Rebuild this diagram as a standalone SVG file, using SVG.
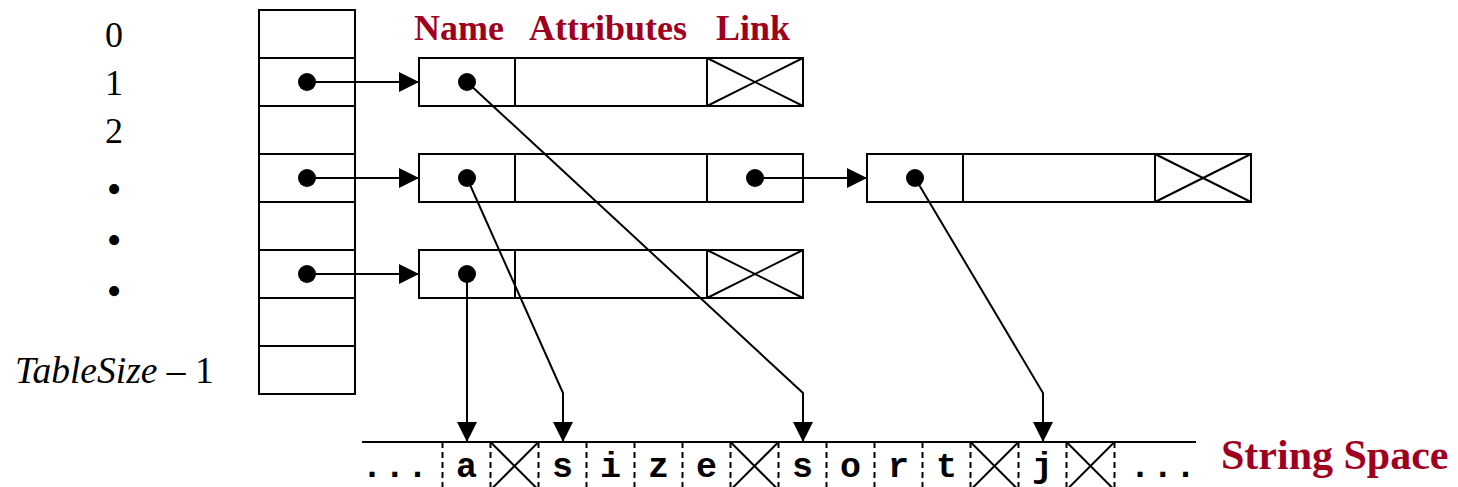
<svg xmlns="http://www.w3.org/2000/svg" width="1458" height="487" viewBox="0 0 1458 487">
<defs>
<style>
.box{fill:#fff;stroke:#000;stroke-width:2}
.ln{fill:none;stroke:#000;stroke-width:2}
.dash{fill:none;stroke:#000;stroke-width:2;stroke-dasharray:6 4}
.dot{fill:#000}
.hdr{font-family:"Liberation Serif","Times New Roman",serif;font-weight:bold;font-size:36px;fill:#A00020}
.lbl{font-family:"Liberation Serif","Times New Roman",serif;font-size:36px;fill:#000}
.bul{font-family:"Liberation Serif","Times New Roman",serif;font-size:42px;fill:#000;text-anchor:middle}
.ch{font-family:"Liberation Mono","Courier New",monospace;font-weight:bold;font-size:35px;fill:#000;text-anchor:middle}
.ell{font-family:"Liberation Mono","Courier New",monospace;font-weight:bold;font-size:35px;fill:#000;letter-spacing:1.7px}
.conn{fill:none;stroke:#000;stroke-width:2;marker-end:url(#ah)}
</style>
<marker id="ah" markerUnits="userSpaceOnUse" markerWidth="20" markerHeight="20" refX="20" refY="10" orient="auto">
<path d="M0,0 L20,10 L0,20 z" fill="#000"/>
</marker>
</defs>
<rect width="1458" height="487" fill="#fff"/>

<g id="labels">
<text class="lbl" x="114" y="47" text-anchor="middle">0</text>
<text class="lbl" x="114" y="95" text-anchor="middle">1</text>
<text class="lbl" x="114" y="143" text-anchor="middle">2</text>
<text class="bul" x="114" y="203">•</text>
<text class="bul" x="114" y="254">•</text>
<text class="bul" x="114" y="305">•</text>
<text class="lbl" x="15" y="383" style="font-size:37.5px"><tspan font-style="italic">TableSize</tspan> – 1</text>
<text class="hdr" x="414" y="40">Name</text>
<text class="hdr" x="529" y="40">Attributes</text>
<text class="hdr" x="716" y="40">Link</text>
</g>

<g id="hash-table">
<rect class="box" x="259" y="10" width="96" height="384"/>
<path class="ln" d="M259,58H355M259,106H355M259,154H355M259,202H355M259,250H355M259,298H355M259,346H355"/>
<circle class="dot" cx="307" cy="82" r="9"/>
<circle class="dot" cx="307" cy="178" r="9"/>
<circle class="dot" cx="307" cy="274" r="9"/>
</g>

<g id="record-1">
<rect class="box" x="419" y="58" width="384" height="48"/>
<path class="ln" d="M515,58V106M707,58V106M707,58L803,106M707,106L803,58"/>
<circle class="dot" cx="467" cy="82" r="9"/>
</g>

<g id="record-2">
<rect class="box" x="419" y="154" width="384" height="48"/>
<path class="ln" d="M515,154V202M707,154V202"/>
<circle class="dot" cx="467" cy="178" r="9"/>
<circle class="dot" cx="755" cy="178" r="9"/>
</g>

<g id="record-3">
<rect class="box" x="867" y="154" width="384" height="48"/>
<path class="ln" d="M963,154V202M1155,154V202M1155,154L1251,202M1155,202L1251,154"/>
<circle class="dot" cx="915" cy="178" r="9"/>
</g>

<g id="record-4">
<rect class="box" x="419" y="250" width="384" height="48"/>
<path class="ln" d="M515,250V298M707,250V298M707,250L803,298M707,298L803,250"/>
<circle class="dot" cx="467" cy="274" r="9"/>
</g>

<g id="string-space">
<path class="ln" d="M362,442H1196"/>
<path class="dash" d="M442.5,442V490M490.5,442V490M538.5,442V490M586.5,442V490M634.5,442V490M682.5,442V490M730.5,442V490M778.5,442V490M826.5,442V490M874.5,442V490M922.5,442V490M970.5,442V490M1018.5,442V490M1066.5,442V490M1114.5,442V490"/>
<path class="ln" d="M490.5,442L538.5,490M490.5,490L538.5,442M730.5,442L778.5,490M730.5,490L778.5,442M970.5,442L1018.5,490M970.5,490L1018.5,442M1066.5,442L1114.5,490M1066.5,490L1114.5,442"/>
<text class="ell" x="361.5" y="477">...</text>
<text class="ch" x="466.5" y="477">a</text>
<text class="ch" x="562.5" y="477">s</text>
<text class="ch" x="610.5" y="477">i</text>
<text class="ch" x="658.5" y="477">z</text>
<text class="ch" x="706.5" y="477">e</text>
<text class="ch" x="802.5" y="477">s</text>
<text class="ch" x="850.5" y="477">o</text>
<text class="ch" x="898.5" y="477">r</text>
<text class="ch" x="946.5" y="477">t</text>
<text class="ch" x="1042.5" y="477">j</text>
<text class="ell" x="1129.5" y="477">...</text>
<text class="hdr" x="1221" y="469" style="font-size:42px">String Space</text>
</g>

<g id="connectors">
<path class="conn" d="M307,82H419"/>
<path class="conn" d="M307,178H419"/>
<path class="conn" d="M307,274H419"/>
<path class="conn" d="M755,178H867"/>
<path class="conn" d="M467,82L803,393V442"/>
<path class="conn" d="M467,178L563,393V442"/>
<path class="conn" d="M467,274V442"/>
<path class="conn" d="M915,178L1043,393V442"/>
</g>
</svg>
